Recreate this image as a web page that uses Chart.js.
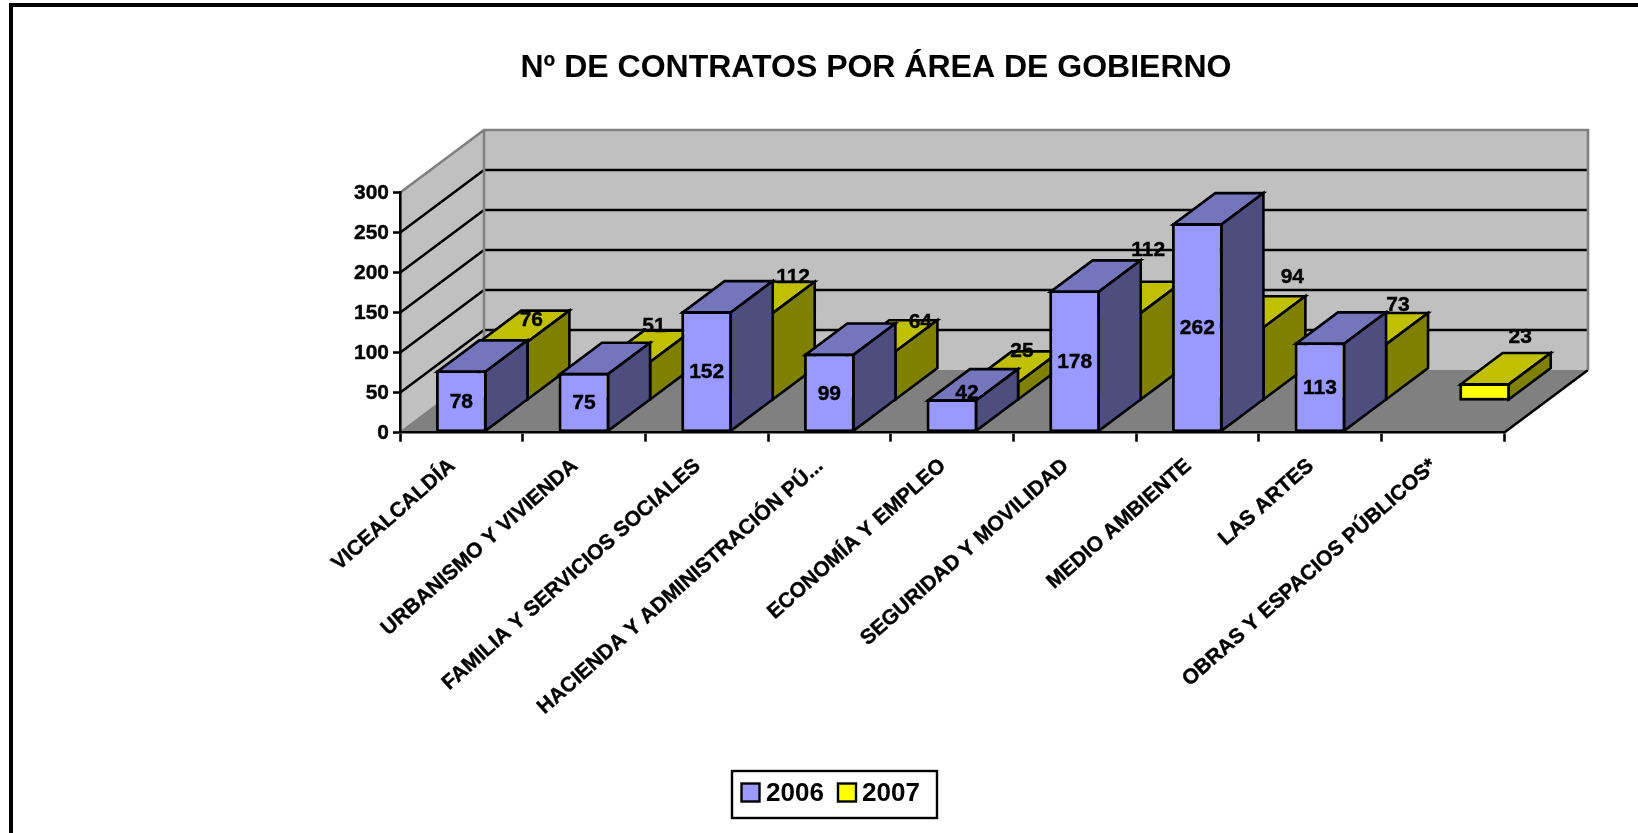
<!DOCTYPE html>
<html lang="es">
<head>
<meta charset="utf-8">
<title>Nº de contratos por área de gobierno</title>
<script src="https://cdn.jsdelivr.net/npm/chart.js@4"></script>
<style>html,body{margin:0;padding:0;background:#fff;overflow:hidden}canvas{display:block}</style>
</head>
<body>
<canvas id="c" width="1638" height="833"></canvas>
<script>
const categories = ["VICEALCALDÍA","URBANISMO Y VIVIENDA","FAMILIA Y SERVICIOS SOCIALES","HACIENDA Y ADMINISTRACIÓN PÚ...","ECONOMÍA Y EMPLEO","SEGURIDAD Y MOVILIDAD","MEDIO AMBIENTE","LAS ARTES","OBRAS Y ESPACIOS PÚBLICOS*"];
const values2006 = [78,75,152,99,42,178,262,113,null];
const values2007 = [76,51,112,64,25,112,94,73,23];
const yMax = 300, yStep = 50;

// Styling only: hand-placed data label nudges of the original (px)
const nudge2006 = [[0,0],[0,0],[0,0],[0,0],[15,-23],[0,0],[0,0],[0,0],[0,0]];
const nudge2007 = [[28,-21.6],[28,-35],[44.4,-36],[49,-29],[28,-30.7],[31.6,-62.5],[53,-49.5],[36,-39],[35.6,-47]];

const FONT = '"Liberation Sans", Arial, sans-serif';
const DX = 84, DY = 62.7;            // full floor depth on screen
const AREA = {left:400, right:1504, top:192.7, bottom:432.7};
const LEG = {x:732, y:771, w:205, h:47, swatch:18};
const LW = 2.6;
const faces = [
  {front:'#9999FF', top:'#7575BE', side:'#4D4D80'},
  {front:'#FFFF00', top:'#C0C000', side:'#808000'}
];

function poly(ctx, pts, fill, stroke, lw){
  ctx.beginPath();
  pts.forEach((p,i)=> i ? ctx.lineTo(p[0],p[1]) : ctx.moveTo(p[0],p[1]));
  ctx.closePath();
  if(fill){ctx.fillStyle=fill;ctx.fill();}
  if(stroke){ctx.strokeStyle=stroke;ctx.lineWidth=lw||2;ctx.stroke();}
}
function line(ctx,x1,y1,x2,y2,c,lw){
  ctx.beginPath();ctx.moveTo(x1,y1);ctx.lineTo(x2,y2);ctx.strokeStyle=c;ctx.lineWidth=lw||2;ctx.stroke();
}

const scene3d = {
  id:'scene3d',
  afterLayout(chart){
    const t = chart.titleBlock;
    t.left = 520; t.right = 1232; t.width = 712; t.top += 2; t.bottom += 2;
    const l = chart.legend;
    const pad = l.options.labels.padding;
    l.left = 741 - pad; l.right = l.left + 400; l.width = 400;
    l.top = 792.5 - pad - 11.5;
  },
  beforeDraw(chart){
    const ctx = chart.ctx, y = chart.scales.y, x = chart.scales.x;
    const L = x.left, R = x.right;
    const y0 = y.getPixelForValue(0), yT = y.getPixelForValue(yMax);
    ctx.save();
    ctx.fillStyle='#fff';ctx.fillRect(0,0,chart.width,chart.height);
    // outer frame
    ctx.fillStyle='#000';
    ctx.fillRect(9,3,chart.width,4);
    ctx.fillRect(9,3,4,chart.height);
    // walls + floor
    poly(ctx,[[L,y0],[L+DX,y0-DY],[L+DX,yT-DY],[L,yT]],'#C0C0C0');
    poly(ctx,[[L+DX,y0-DY],[R+DX,y0-DY],[R+DX,yT-DY],[L+DX,yT-DY]],'#C0C0C0');
    poly(ctx,[[L,y0],[R,y0],[R+DX,y0-DY],[L+DX,y0-DY]],'#808080');
    line(ctx,R,y0,R+DX,y0-DY,'#000',LW);
    line(ctx,L,y0,L+DX,y0-DY,'#808080',LW);
    // gridlines wrap the side and back walls
    for(let v=yStep;v<yMax;v+=yStep){
      const p=y.getPixelForValue(v);
      line(ctx,L,p,L+DX,p-DY,'#000',LW);
      line(ctx,L+DX,p-DY,R+DX,p-DY,'#000',LW);
    }
    // grey wall outline
    ctx.lineJoin='miter';
    ctx.beginPath();ctx.moveTo(L,yT);ctx.lineTo(L+DX,yT-DY);ctx.lineTo(R+DX,yT-DY);ctx.lineTo(R+DX,y0-DY);
    ctx.moveTo(L+DX,yT-DY);ctx.lineTo(L+DX,y0-DY);
    ctx.strokeStyle='#808080';ctx.lineWidth=LW;ctx.stroke();
    ctx.restore();
  },
  beforeDatasetDraw(chart,args){
    const ctx=chart.ctx, i=args.index, d=DX/2, e=DY/2;
    ctx.save();
    ctx.translate(i*d,-i*e);
    ctx.lineJoin='miter';
    args.meta.data.forEach((el,k)=>{
      if(chart.data.datasets[i].data[k]===null) return;
      const a=el.x-el.width/2+1.4, b=el.x+el.width/2-1.4, t=el.y+1.4, z=el.base-1.4;
      poly(ctx,[[a,t],[b,t],[b+d,t-e],[a+d,t-e]],faces[i].top,'#000',LW);
      poly(ctx,[[b,t],[b+d,t-e],[b+d,z-e],[b,z]],faces[i].side,'#000',LW);
    });
  },
  afterDatasetDraw(chart){ chart.ctx.restore(); },
  afterDraw(chart){
    const ctx=chart.ctx;
    ctx.save();
    // data labels on top of everything
    ctx.font='bold 21px '+FONT;ctx.fillStyle='#000';ctx.strokeStyle='#000';ctx.lineWidth=0.4;ctx.textAlign='center';ctx.textBaseline='middle';
    const put=(s,x,y)=>{ctx.fillText(s,x,y);ctx.strokeText(s,x,y);};
    const m0=chart.getDatasetMeta(0), m1=chart.getDatasetMeta(1);
    values2006.forEach((v,k)=>{
      if(v===null) return;
      const el=m0.data[k];
      put(String(v),el.x+nudge2006[k][0],(el.y+el.base)/2+nudge2006[k][1]+1);
    });
    values2007.forEach((v,k)=>{
      const el=m1.data[k];
      put(String(v),el.x+DX/2+nudge2007[k][0],el.y-DY/2+nudge2007[k][1]+1);
    });
    // legend frame and swatches
    ctx.lineWidth=2.4;ctx.strokeStyle='#000';
    ctx.strokeRect(LEG.x,LEG.y,LEG.w,LEG.h);
    [741.5,838].forEach((sx,i)=>{
      ctx.fillStyle=faces[i].front;
      ctx.fillRect(sx,783.5,LEG.swatch,LEG.swatch);
      ctx.strokeRect(sx,783.5,LEG.swatch,LEG.swatch);
    });
    ctx.restore();
  }
};

new Chart(document.getElementById('c'),{
  type:'bar',
  data:{
    labels:categories,
    datasets:[
      {label:'2006',data:values2006,backgroundColor:faces[0].front,borderColor:'#000',borderWidth:3,borderSkipped:false,grouped:false,clip:false,categoryPercentage:1,barPercentage:0.415},
      {label:'2007',data:values2007,backgroundColor:faces[1].front,borderColor:'#000',borderWidth:3,borderSkipped:false,grouped:false,clip:false,categoryPercentage:1,barPercentage:0.415}
    ]
  },
  plugins:[scene3d],
  options:{
    responsive:false,
    animation:false,
    layout:{padding:{left:0,right:134,top:0,bottom:0}},
    plugins:{
      tooltip:{enabled:false},
      title:{display:true,text:'Nº DE CONTRATOS POR ÁREA DE GOBIERNO',color:'#000',
        font:{family:FONT,size:32,weight:'bold',lineHeight:1.2},
        padding:{top:47,bottom:AREA.top-47-38.4}},
      legend:{display:true,position:'bottom',align:'start',
        labels:{color:'#000',font:{family:FONT,size:26,weight:'bold'},boxWidth:12,boxHeight:19,padding:13.2,
          generateLabels(chart){
            return Chart.defaults.plugins.legend.labels.generateLabels(chart).map(it=>Object.assign(it,{fillStyle:'rgba(0,0,0,0)',strokeStyle:'rgba(0,0,0,0)',lineWidth:0}));
          }}}
    },
    scales:{
      x:{
        grid:{drawOnChartArea:false,drawTicks:true,tickLength:9,tickWidth:LW,tickColor:'#000',offset:true},
        border:{display:true,color:'#000',width:LW},
        ticks:{color:'#000',font:{family:FONT,size:21,weight:'bold'},autoSkip:false,minRotation:41.5,maxRotation:41.5,padding:12,labelOffset:-9,textStrokeColor:'#000',textStrokeWidth:0.4},
        afterFit(s){ s.height = s.chart.height - AREA.bottom - s.chart.legend.height; }
      },
      y:{
        min:0,max:yMax,
        grid:{drawOnChartArea:false,drawTicks:true,tickLength:7,tickWidth:LW,tickColor:'#000'},
        border:{display:true,color:'#000',width:LW},
        ticks:{color:'#000',stepSize:yStep,font:{family:FONT,size:21,weight:'bold'},padding:4,labelOffset:1,textStrokeColor:'#000',textStrokeWidth:0.4},
        afterFit(s){ s.width = AREA.left; }
      }
    }
  }
});
</script>
</body>
</html>
